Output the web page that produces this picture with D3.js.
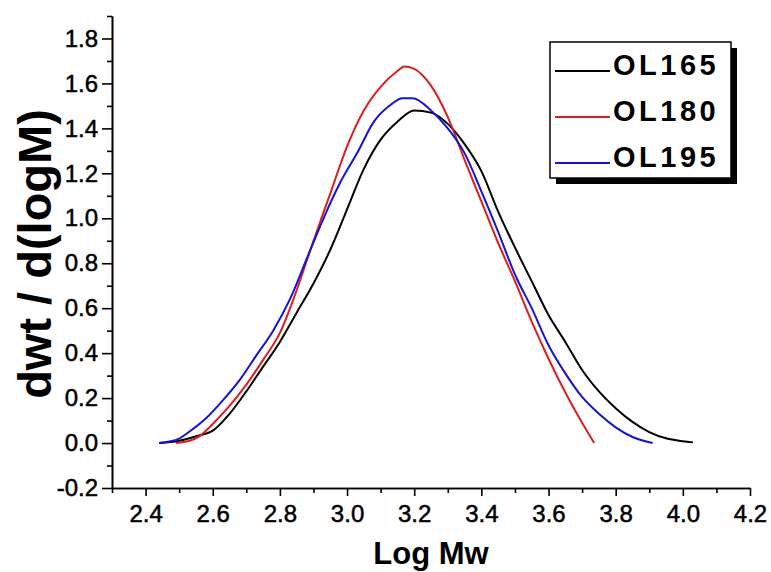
<!DOCTYPE html>
<html>
<head>
<meta charset="utf-8">
<script src="https://cdn.jsdelivr.net/npm/d3@7"></script>
<style>
    html, body { margin: 0; padding: 0; background: #fff; }
    svg { display: block; }
    text { font-family: "Liberation Sans", Arial, sans-serif; fill: #000; }
</style>
</head>
<body>
<svg id="chart" width="771" height="572"></svg>
<script>

/* values: Log Mw (x) and dwt / d(logM) (y) per sample */
var ol165_x = [2.44, 2.50, 2.55, 2.60, 2.65, 2.70, 2.75, 2.80, 2.85, 2.90, 2.95, 3.00, 3.05, 3.10, 3.15, 3.20,
               3.25, 3.30, 3.35, 3.40, 3.45, 3.50, 3.55, 3.60, 3.65, 3.70, 3.75, 3.80, 3.85, 3.90, 3.95, 4.00, 4.03];
var ol165_y = [0.00, 0.01, 0.03, 0.055, 0.13, 0.23, 0.34, 0.45, 0.58, 0.71, 0.86, 1.04, 1.22, 1.35, 1.43, 1.48,
               1.47, 1.42, 1.33, 1.21, 1.03, 0.87, 0.72, 0.57, 0.45, 0.325, 0.23, 0.155, 0.094, 0.049, 0.021, 0.008, 0.003];

var ol180_x = [2.49, 2.53, 2.56, 2.60, 2.65, 2.70, 2.75, 2.80, 2.85, 2.90, 2.95, 3.00, 3.05, 3.10, 3.15, 3.17,
               3.20, 3.25, 3.30, 3.35, 3.40, 3.45, 3.50, 3.55, 3.60, 3.65, 3.70, 3.736];
var ol180_y = [0.00, 0.01, 0.03, 0.085, 0.165, 0.26, 0.37, 0.49, 0.68, 0.90, 1.11, 1.32, 1.48, 1.585, 1.655, 1.675,
               1.665, 1.59, 1.45, 1.26, 1.075, 0.89, 0.72, 0.54, 0.375, 0.225, 0.09, 0.0];

var ol195_x = [2.44, 2.50, 2.53, 2.58, 2.63, 2.68, 2.73, 2.78, 2.83, 2.88, 2.93, 2.98, 3.03, 3.08, 3.13, 3.165,
               3.195, 3.25, 3.30, 3.35, 3.40, 3.45, 3.50, 3.55, 3.60, 3.65, 3.70, 3.75, 3.80, 3.85, 3.91];
var ol195_y = [0.00, 0.02, 0.05, 0.11, 0.19, 0.28, 0.39, 0.50, 0.64, 0.82, 1.00, 1.16, 1.29, 1.43, 1.505, 1.534,
               1.534, 1.48, 1.40, 1.29, 1.12, 0.94, 0.75, 0.60, 0.435, 0.31, 0.205, 0.13, 0.07, 0.027, 0.0];

var series_names  = ['OL165', 'OL180', 'OL195'];
var series_colors = ['#000000', '#dc1e1e', '#1414d2'];

var x_major_ticks = [2.4, 2.6, 2.8, 3.0, 3.2, 3.4, 3.6, 3.8, 4.0, 4.2];
var x_minor_ticks = [2.3, 2.5, 2.7, 2.9, 3.1, 3.3, 3.5, 3.7, 3.9, 4.1];
var y_major_ticks = [-0.2, 0.0, 0.2, 0.4, 0.6, 0.8, 1.0, 1.2, 1.4, 1.6, 1.8];
var y_minor_ticks = [-0.1, 0.1, 0.3, 0.5, 0.7, 0.9, 1.1, 1.3, 1.5, 1.7, 1.9];

var x_title = 'Log Mw';
var y_title = 'dwt / d(logM)';


(function(d3) {

    var svg = d3.select('#chart');

    /* plot area in pixels */
    var left = 112, right = 750, top = 16, bottom = 488;

    var x = d3.scaleLinear().domain([2.3, 4.2]).range([left, right]);
    var y = d3.scaleLinear().domain([-0.2, 1.9]).range([bottom, top]);

    /* plain hyphen for negative numbers, like the original */
    var fmt = d3.formatLocale({ decimal: '.', thousands: ',', grouping: [3], currency: ['', ''], minus: '-' }).format('.1f');

    /* helper: make tick text / lines look like the original */
    function style_axis(g, font_size) {
        g.select('.domain').attr('stroke', '#000').attr('stroke-width', 1.6);
        g.selectAll('.tick line').attr('stroke', '#000').attr('stroke-width', 1.6);
        g.selectAll('.tick text')
            .attr('fill', '#000')
            .attr('stroke', '#000')
            .attr('stroke-width', 0.5)
            .style('font-family', '"Liberation Sans", Arial, sans-serif')
            .style('font-size', font_size + 'px');
    }

    /* minor ticks first, the major axis draws the line over them */
    var gx_minor = svg.append('g')
        .attr('transform', 'translate(0,' + bottom + ')')
        .call(d3.axisBottom(x).tickValues(x_minor_ticks).tickSize(5).tickSizeOuter(0).tickFormat(''));
    style_axis(gx_minor, 24);

    var gx = svg.append('g')
        .attr('transform', 'translate(0,' + bottom + ')')
        .call(d3.axisBottom(x).tickValues(x_major_ticks).tickSize(8).tickSizeOuter(0).tickPadding(9).tickFormat(fmt));
    style_axis(gx, 24);

    var gy_minor = svg.append('g')
        .attr('transform', 'translate(' + left + ',0)')
        .call(d3.axisLeft(y).tickValues(y_minor_ticks).tickSize(5).tickSizeOuter(0).tickFormat(''));
    style_axis(gy_minor, 24);

    var gy = svg.append('g')
        .attr('transform', 'translate(' + left + ',0)')
        .call(d3.axisLeft(y).tickValues(y_major_ticks).tickSize(10).tickSizeOuter(0).tickPadding(4).tickFormat(fmt));
    style_axis(gy, 24);

    /* axis titles */
    svg.append('text')
        .attr('x', (left + right) / 2)
        .attr('y', 564)
        .attr('text-anchor', 'middle')
        .style('font-size', '31px')
        .style('font-weight', 'bold')
        .text(x_title);

    svg.append('text')
        .attr('transform', 'translate(51,' + ((top + bottom) / 2 + 2) + ') rotate(-90)')
        .attr('text-anchor', 'middle')
        .style('font-size', '47px')
        .style('font-weight', 'bold')
        .text(y_title);

    /* curves */
    var series = [
        { name: series_names[0], color: series_colors[0], xs: ol165_x, ys: ol165_y },
        { name: series_names[1], color: series_colors[1], xs: ol180_x, ys: ol180_y },
        { name: series_names[2], color: series_colors[2], xs: ol195_x, ys: ol195_y }
    ];

    var line = d3.line()
        .x(function(d) { return x(d[0]); })
        .y(function(d) { return y(d[1]); })
        .curve(d3.curveMonotoneX);

    svg.append('g').attr('class', 'curves')
        .selectAll('path')
        .data(series)
        .enter()
        .append('path')
        .attr('fill', 'none')
        .attr('stroke', function(d) { return d.color; })
        .attr('stroke-width', 2)
        .attr('stroke-linejoin', 'round')
        .attr('d', function(d) {
            return line(d.xs.map(function(v, i) { return [v, d.ys[i]]; }));
        });

    /* legend box with drop shadow */
    var lg = svg.append('g').attr('transform', 'translate(550,42)');
    var box_w = 181, box_h = 136;

    lg.append('rect')
        .attr('x', 6).attr('y', 6)
        .attr('width', box_w).attr('height', box_h)
        .attr('fill', '#000');

    lg.append('rect')
        .attr('width', box_w).attr('height', box_h)
        .attr('fill', '#fff')
        .attr('stroke', '#000')
        .attr('stroke-width', 1.5);

    var items = lg.selectAll('.legend_item')
        .data(series)
        .enter()
        .append('g')
        .attr('class', 'legend_item')
        .attr('transform', function(d, i) { return 'translate(0,' + (33 + i * 46) + ')'; });

    items.append('line')
        .attr('x1', 5).attr('x2', 60)
        .attr('y1', -4).attr('y2', -4)
        .attr('stroke', function(d) { return d.color; })
        .attr('stroke-width', 2);

    items.append('text')
        .attr('x', 63)
        .attr('y', 0)
        .style('font-size', '29px')
        .style('font-weight', 'bold')
        .style('letter-spacing', '3.5px')
        .text(function(d) { return d.name; });

}(d3));

</script>
</body>
</html>
